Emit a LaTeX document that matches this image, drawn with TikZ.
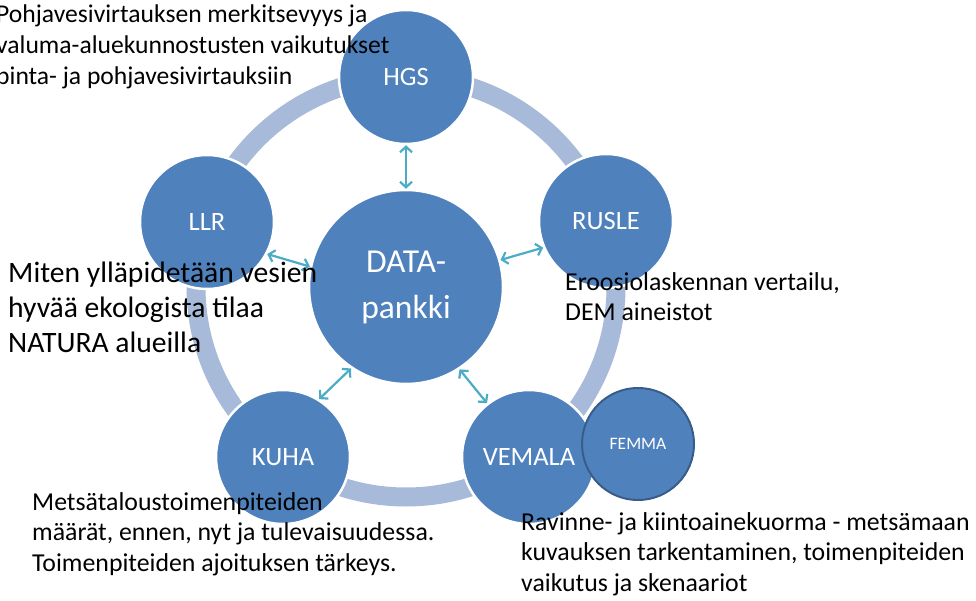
\documentclass[tikz,border=0pt]{standalone}
\usepackage{fontspec}
\setmainfont{Carlito}
\usetikzlibrary{arrows.meta}
\definecolor{nodeblue}{HTML}{4F81BD}
\definecolor{ringblue}{RGB}{168,186,217}
\definecolor{arrowteal}{HTML}{4BACC6}
\definecolor{femmaline}{HTML}{385D8A}
\tikzset{
  ringline/.style={draw=ringblue, line width=19pt},
  bubble/.style={circle, fill=nodeblue, draw=white, line width=2.5pt, inner sep=0pt, minimum size=134pt, text=white, font=\fontsize{26.5}{30}\selectfont},
  bigbubble/.style={bubble, minimum size=194pt, align=center, font=\fontsize{33.5}{46}\selectfont},
  femmabubble/.style={circle, fill=nodeblue, draw=femmaline, line width=2pt, inner sep=0pt, minimum size=112pt, text=white, font=\fontsize{17.5}{20}\selectfont},
  link/.style={draw=arrowteal, line width=2.2pt, {Straight Barb[length=5.5pt,width=12pt]}-{Straight Barb[length=5.5pt,width=12pt]}},
  note/.style={anchor=north west, inner sep=0pt, align=left, text=black, font=\fontsize{25.8}{30.5}\selectfont},
  topnote/.style={note, font=\fontsize{25.6}{31}\selectfont},
  bignote/.style={note, font=\fontsize{29.6}{35}\selectfont}
}
\begin{document}
\begin{tikzpicture}[x=1pt, y=-1pt]
\useasboundingbox (0,0) rectangle (976,601);
\fill[white] (0,0) rectangle (976,601);
% ring
\draw[ringline] (406,287) circle[radius=210];
% circles
\node[bubble] (hgs) at (406,77) {HGS};
\node[bubble] (rusle) at (606,221) {RUSLE};
\node[bubble] (llr) at (207,222) {LLR};
\node[bubble] (kuha) at (283,457) {KUHA};
\node[bubble] (vemala) at (529,457) {VEMALA};
\node[femmabubble] (femma) at (638,444) {FEMMA};
\node[bigbubble] (data) at (406,287) {DATA-\\pankki};
% arrows
\draw[link] (hgs.270) -- (data.90);
\draw[link] (data.16) -- (rusle.203);
\draw[link] (data.168) -- (llr.332);
\draw[link] (data.236) -- (kuha.58);
\draw[link] (data.303) -- (vemala.128);
% texts
\node[topnote] (t1) at (-4,5) {Pohjavesivirtauksen merkitsevyys ja\\valuma-aluekunnostusten vaikutukset\\pinta- ja pohjavesivirtauksiin};
\node[bignote] (t2) at (8,262) {Miten ylläpidetään vesien\\hyvää ekologista tilaa\\NATURA alueilla};
\node[note] (t3) at (565,272) {Eroosiolaskennan vertailu,\\DEM aineistot};
\node[note] (t4) at (32,492) {Metsätaloustoimenpiteiden\\määrät, ennen, nyt ja tulevaisuudessa.\\Toimenpiteiden ajoituksen tärkeys.};
\node[note] (t5) at (521,512) {Ravinne- ja kiintoainekuorma - metsämaan\\kuvauksen tarkentaminen, toimenpiteiden\\vaikutus ja skenaariot};
\end{tikzpicture}
\end{document}
